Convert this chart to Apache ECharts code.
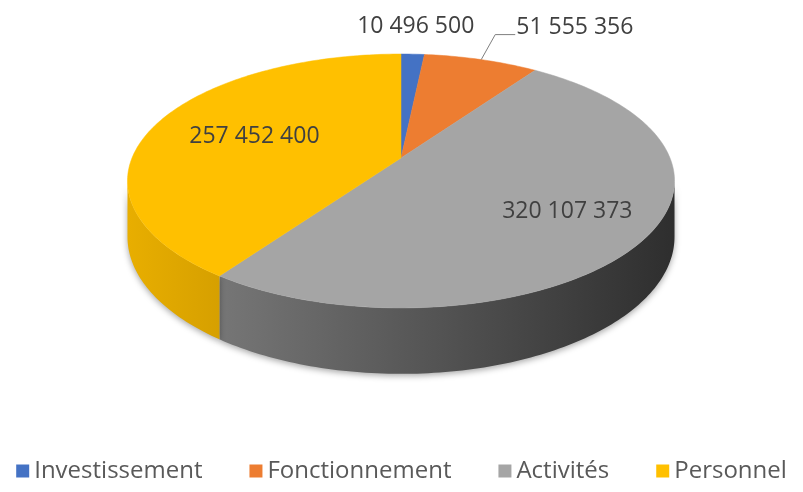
<!DOCTYPE html>
<html>
<head>
<meta charset="utf-8">
<script src="https://cdn.jsdelivr.net/npm/echarts@6/dist/echarts.min.js"></script>
<style>html,body{margin:0;padding:0;background:#fff}#c{width:803px;height:492px}</style>
</head>
<body>
<div id="c"></div>
<script>
// ---- data ----
const categories = ['Investissement', 'Fonctionnement', 'Activités', 'Personnel'];
const values = [10496500, 51555356, 320107373, 257452400];

// ---- style ----
const topColors = ['#4472C4', '#ED7D31', '#A5A5A5', '#FFC000'];
const sideColors = [
  ['#3a62a8', '#2d4f8a'],
  ['#cf6a26', '#b85a1d'],
  ['#767676', '#2e2e2e'],
  ['#E8AE00', '#D6A000']
];
const labelStyle = [
  { type: 'above', dx: 3, dy: -28 },
  { type: 'leader' },
  { type: 'inside', r: 0.7 },
  { type: 'inside', r: 0.59 }
];
const G = { cx: 401, cy: 158, A: 269, B: 122.8, k: 0.181, h: 54 };
const FONT = '"Open Sans", sans-serif';

const total = values.reduce((a, b) => a + b, 0);
const starts = [];
let acc = 0;
values.forEach(v => { starts.push(acc / total * 360); acc += v; });

function fmt(v) { return String(v).replace(/\B(?=(\d{3})+(?!\d))/g, ' '); }

function proj(deg, r, drop) {
  const t = deg * Math.PI / 180;
  const x = r * Math.sin(t);
  const d = -r * Math.cos(t);
  const w = 1 - G.k * d;
  return [G.cx + G.A * x / w, G.cy + G.B * d / w + (drop || 0) / w];
}

function makeRender(i) {
  return function (params, api) {
    const v = api.value(0);
    const a0 = starts[i];
    const a1 = a0 + v / total * 360;
    const children = [];
    // side (front-visible portion only)
    const sa = Math.acos(-G.k) * 180 / Math.PI;
    const sb = 360 - sa;
    const s0 = Math.max(a0, sa), s1 = Math.min(a1, sb);
    if (s1 > s0) {
      const topPts = [], botPts = [];
      const n = Math.max(2, Math.ceil((s1 - s0) / 1));
      for (let j = 0; j <= n; j++) {
        const a = s0 + (s1 - s0) * j / n;
        topPts.push(proj(a, 1, 0));
        botPts.push(proj(a, 1, G.h));
      }
      children.push({
        type: 'polygon',
        shape: { points: topPts.concat(botPts.reverse()) },
        style: {
          fill: { type: 'linear', x: 0, y: 0, x2: 1, y2: 0,
            colorStops: [{ offset: 0, color: sideColors[i][0] }, { offset: 1, color: sideColors[i][1] }] },
          shadowColor: 'rgba(0,0,0,0.35)', shadowBlur: 6, shadowOffsetY: 2
        },
        z2: 1
      });
    }
    // top face
    const pts = [proj(0, 0, 0)];
    const n = Math.max(2, Math.ceil((a1 - a0) / 1));
    for (let j = 0; j <= n; j++) pts.push(proj(a0 + (a1 - a0) * j / n, 1, 0));
    children.push({
      type: 'polygon',
      shape: { points: pts },
      style: { fill: topColors[i], stroke: topColors[i], lineWidth: 0.5 },
      z2: 2
    });
    // label
    const ls = labelStyle[i];
    const mid = (a0 + a1) / 2;
    const txtStyle = { text: fmt(v), fill: '#404040', fontSize: 23, fontFamily: FONT };
    if (ls.type === 'inside') {
      const p = proj(mid, ls.r, 0);
      children.push({ type: 'text', x: p[0], y: p[1],
        style: Object.assign({ align: 'center', verticalAlign: 'middle' }, txtStyle), z2: 5 });
    } else if (ls.type === 'above') {
      const p = proj(mid, 1, 0);
      children.push({ type: 'text', x: p[0] + ls.dx, y: p[1] + ls.dy,
        style: Object.assign({ align: 'center', verticalAlign: 'middle' }, txtStyle), z2: 5 });
    } else {
      const p = proj(mid, 1, 0);
      const e = [p[0] + 14, p[1] - 25];
      const f = [e[0] + 20, e[1]];
      children.push({ type: 'polyline', shape: { points: [p, e, f] },
        style: { stroke: '#7f7f7f', lineWidth: 1, fill: null }, z2: 5 });
      children.push({ type: 'text', x: f[0] + 1, y: f[1] - 7,
        style: Object.assign({ align: 'left', verticalAlign: 'middle' }, txtStyle), z2: 5 });
    }
    return { type: 'group', children: children };
  };
}

const chart = echarts.init(document.getElementById('c'), null, { renderer: 'canvas' });
chart.setOption({
  animation: false,
  backgroundColor: '#ffffff',
  color: topColors,
  legend: {
    data: categories,
    left: 'center',
    top: 454,
    icon: 'rect',
    itemWidth: 13,
    itemHeight: 13,
    itemGap: 47,
    textStyle: { fontSize: 24, color: '#595959', fontFamily: FONT }
  },
  series: categories.map((name, i) => ({
    type: 'custom',
    name: name,
    coordinateSystem: 'none',
    silent: true,
    itemStyle: { color: topColors[i] },
    data: [[values[i]]],
    renderItem: makeRender(i)
  }))
});
</script>
</body>
</html>
